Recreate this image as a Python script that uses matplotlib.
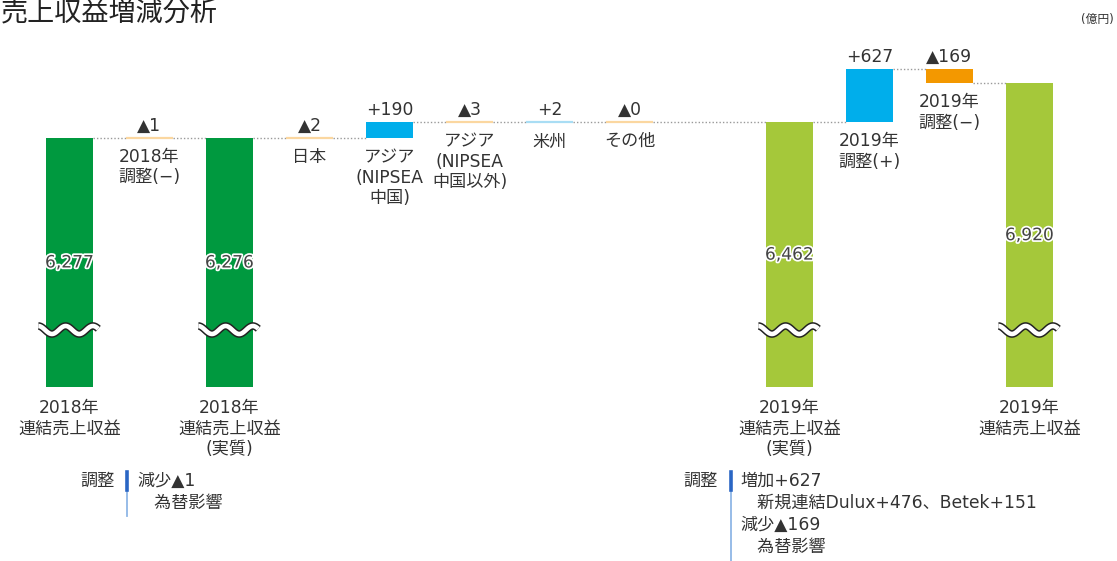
import numpy as np
import matplotlib
matplotlib.use("Agg")
import matplotlib.pyplot as plt
import matplotlib.patheffects as pe

plt.rcParams['font.family'] = ['DejaVu Sans', 'Noto Sans CJK JP']

# ---------------- data ----------------
categories = ["2018年\n連結売上収益", "2018年\n調整(−)", "2018年\n連結売上収益\n(実質)",
              "日本", "アジア\n(NIPSEA\n中国)", "アジア\n(NIPSEA\n中国以外)", "米州", "その他",
              "2019年\n連結売上収益\n(実質)", "2019年\n調整(+)", "2019年\n調整(−)",
              "2019年\n連結売上収益"]
values = [6277, -1, 6276, -2, 190, -3, 2, 0, 6462, 627, -169, 6920]
is_total = [True, False, True, False, False, False, False, False, True, False, False, True]
value_labels = ["6,277", "▲1", "6,276", "▲2", "+190", "▲3", "+2", "▲0",
                "6,462", "+627", "▲169", "6,920"]
total_year = [2018, None, 2018, None, None, None, None, None, 2019, None, None, 2019]

title = "売上収益増減分析"
unit = "(億円)"
note_left = ["減少▲1", "　為替影響"]
note_right = ["増加+627", "　新規連結Dulux+476、Betek+151", "減少▲169", "　為替影響"]

# ---------------- style ----------------
C_2018 = "#00993f"
C_2019 = "#a5c83a"
C_UP = "#00aeeb"
C_DOWN = "#f39800"
C_UP_S = "#a9ddf4"
C_DOWN_S = "#fbd7a0"
TXT = "#333333"
FS = 12.3
LS = 1.17

W, H = 1117, 561
fig = plt.figure(figsize=(W / 100, H / 100), dpi=100)
ax = fig.add_axes([0, 0, 1, 1])
ax.set_axis_off()

# pixel layout of the value axis (broken axis)
px_per_unit = 0.085
ref_val, ref_px = 6277, 138
base_px = 387
def v_at(px):
    return ref_val - (px - ref_px) / px_per_unit
ax.set_ylim(v_at(H), v_at(0))
base = v_at(base_px)
brk = v_at(330)

# x slots: gap after "その他"
slot = np.array([i if i < 8 else i + 1 for i in range(len(values))], dtype=float)
slot_w, x0_px = 80.0, 69.5
ax.set_xlim(-x0_px / slot_w, (W - x0_px) / slot_w)
bw = 0.59

def px_to_units(p):
    return p / px_per_unit

level = None
ends = []
for i, v in enumerate(values):
    x = slot[i]
    if is_total[i]:
        col = C_2018 if total_year[i] == 2018 else C_2019
        ax.bar(x, v - base, bottom=base, width=bw, color=col, zorder=2)
        level = v
        bottom = base
        ax.text(x, (v + base) / 2, value_labels[i], ha='center', va='center',
                fontsize=FS, color='#444444', zorder=5,
                path_effects=[pe.withStroke(linewidth=2.5, foreground='white')])
        # break wave
        xs = np.linspace(x - 0.39, x + 0.36, 120)
        ys = brk + px_to_units(4) * np.sin((xs - (x - 0.39)) / 0.75 * 2.2 * 2 * np.pi + np.pi / 2)
        ax.plot(xs, ys, color='#222222', lw=5.5, zorder=6, solid_capstyle='butt')
        ax.plot(xs, ys, color='white', lw=3.3, zorder=7, solid_capstyle='butt')
        ax.text(x, bottom - px_to_units(12), categories[i], ha='center', va='top',
                fontsize=FS, color=TXT, linespacing=LS)
    else:
        start = level
        end = level + v
        if abs(v) >= 50:
            col = C_UP if v > 0 else C_DOWN
            ax.bar(x, end - start, bottom=start, width=bw, color=col, zorder=2)
        else:
            col = C_UP_S if v > 0 else C_DOWN_S
            ax.plot([x - bw / 2, x + bw / 2], [end, end], color=col, lw=1.6, zorder=2,
                    solid_capstyle='butt')
        top = max(start, end)
        bottom = min(start, end)
        level = end
        ax.text(x, top + px_to_units(7), value_labels[i], ha='center', va='baseline',
                fontsize=FS, color=TXT)
        ax.text(x, bottom - px_to_units(10), categories[i], ha='center', va='top',
                fontsize=FS, color=TXT, linespacing=LS)
    ends.append(level)

# dotted connectors
for i in range(len(values) - 1):
    ax.plot([slot[i] + bw / 2, slot[i + 1] - bw / 2], [ends[i], ends[i]],
            color='#999999', lw=1.0, ls=(0, (1, 1.5)), zorder=1)

# title and unit
fig.text(1 / W, 1 - 13 / H, title, ha='left', va='center', fontsize=19.5, color='#222222')
fig.text(1114 / W, 1 - 19 / H, unit, ha='right', va='center', fontsize=8.5, color=TXT)

# bottom notes
def fx(p): return p / W
def fy(p): return 1 - p / H

fig.text(fx(80), fy(481), "調整", ha='left', va='center', fontsize=FS, color=TXT)
fig.add_artist(plt.Line2D([fx(127), fx(127)], [fy(472), fy(516)], color='#8fb6e6', lw=1.3))
fig.add_artist(plt.Line2D([fx(127), fx(127)], [fy(472), fy(490)], color='#2a66c4', lw=2.6))
for k, line in enumerate(note_left):
    fig.text(fx(137), fy(481 + 22 * k), line, ha='left', va='center', fontsize=FS, color=TXT)

fig.text(fx(683), fy(481), "調整", ha='left', va='center', fontsize=FS, color=TXT)
fig.add_artist(plt.Line2D([fx(731), fx(731)], [fy(472), fy(561)], color='#8fb6e6', lw=1.3))
fig.add_artist(plt.Line2D([fx(731), fx(731)], [fy(472), fy(490)], color='#2a66c4', lw=2.6))
for k, line in enumerate(note_right):
    fig.text(fx(740), fy(481 + 22 * k), line, ha='left', va='center', fontsize=FS, color=TXT)

fig.savefig("out.png", dpi=100, facecolor='white')
